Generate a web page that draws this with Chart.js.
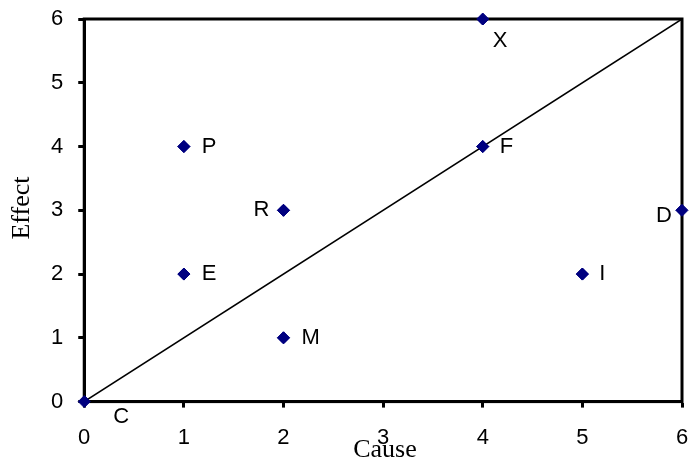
<!DOCTYPE html>
<html>
<head>
<meta charset="utf-8">
<script src="https://cdn.jsdelivr.net/npm/chart.js@4/dist/chart.umd.min.js"></script>
<style>
  html, body { margin: 0; padding: 0; background: #fff; }
  #wrap { width: 690px; height: 463px; }
</style>
</head>
<body>
<div id="wrap"><canvas id="chart"></canvas></div>
<script>
// Data
const pointNames = ['C', 'P', 'E', 'R', 'M', 'F', 'X', 'I', 'D'];
const causeValues = [0, 1, 1, 2, 2, 4, 4, 5, 6];
const effectValues = [0, 4, 2, 3, 1, 4, 6, 2, 3];
const diagonalX = [0, 6];
const diagonalY = [0, 6];
const axisTicks = [0, 1, 2, 3, 4, 5, 6];

// where each name sits next to its marker (dx, dy, align)
const labelPlace = {
    C: [29, 15, 'left'],
    P: [18, 0, 'left'],
    E: [18, 0, 'left'],
    R: [-14, 0, 'right'],
    M: [18, 0, 'left'],
    F: [17, 0, 'left'],
    X: [10, 22, 'left'],
    I: [17, 0, 'left'],
    D: [-10, 6, 'right']
};

const pointData = causeValues.map((x, i) => ({ x: x, y: effectValues[i] }));
const lineData = diagonalX.map((x, i) => ({ x: x, y: diagonalY[i] }));

// Frame, point names and axis titles
const extrasPlugin = {
    id: 'extras',
    afterDatasetsDraw(chart) {
        const ctx = chart.ctx;
        const area = chart.chartArea;
        const xs = chart.scales.x;
        const ys = chart.scales.y;

        ctx.save();
        ctx.strokeStyle = '#000';
        ctx.lineWidth = 3;
        ctx.strokeRect(area.left, area.top, area.right - area.left, area.bottom - area.top);

        ctx.fillStyle = '#000';
        ctx.font = '22px "Liberation Sans", Arial, sans-serif';
        ctx.textBaseline = 'middle';
        pointNames.forEach((name, i) => {
            const p = labelPlace[name];
            ctx.textAlign = p[2];
            ctx.fillText(name, xs.getPixelForValue(causeValues[i]) + p[0], ys.getPixelForValue(effectValues[i]) + p[1]);
        });

        ctx.font = '26px "Liberation Serif", "Times New Roman", serif';
        ctx.textAlign = 'center';
        ctx.fillText('Cause', 385, 450);
        ctx.translate(22, 208);
        ctx.rotate(-Math.PI / 2);
        ctx.fillText('Effect', 0, 0);
        ctx.restore();

        // redraw markers on top of the frame
        const meta = chart.getDatasetMeta(1);
        meta.data.forEach(el => el.draw(ctx, area));
    }
};

// drop the extra room Chart.js keeps for the end labels
function noEndPadding(s) {
    s.paddingTop = 0;
    s.paddingBottom = 0;
    s.paddingLeft = 0;
    s.paddingRight = 0;
}

new Chart(document.getElementById('chart'), {
    type: 'scatter',
    data: {
        datasets: [
            {
                type: 'line',
                data: lineData,
                borderColor: '#000',
                borderWidth: 1.5,
                pointRadius: 0,
                fill: false
            },
            {
                data: pointData,
                pointStyle: 'rectRot',
                pointRadius: 6,
                pointBackgroundColor: '#000080',
                pointBorderColor: '#000080',
                pointBorderWidth: 1
            }
        ]
    },
    options: {
        responsive: true,
        maintainAspectRatio: false,
        animation: false,
        layout: { padding: { left: 36, top: 19, right: 8, bottom: -5 } },
        plugins: {
            legend: { display: false },
            tooltip: { enabled: false }
        },
        scales: {
            x: {
                type: 'linear',
                min: 0,
                max: 6,
                afterBuildTicks: s => { s.ticks = axisTicks.map(v => ({ value: v })); },
                afterFit: noEndPadding,
                grid: { drawOnChartArea: false, drawTicks: true, tickLength: 6, tickWidth: 3, color: '#000' },
                border: { display: true, color: '#000', width: 3 },
                ticks: { color: '#000', padding: 17, font: { family: '"Liberation Sans", Arial, sans-serif', size: 22 } }
            },
            y: {
                type: 'linear',
                min: 0,
                max: 6,
                afterBuildTicks: s => { s.ticks = axisTicks.map(v => ({ value: v })); },
                afterFit: noEndPadding,
                grid: { drawOnChartArea: false, drawTicks: true, tickLength: 6, tickWidth: 3, color: '#000' },
                border: { display: true, color: '#000', width: 3 },
                ticks: { color: '#000', padding: 15, font: { family: '"Liberation Sans", Arial, sans-serif', size: 22 } }
            }
        }
    },
    plugins: [extrasPlugin]
});
</script>
</body>
</html>
